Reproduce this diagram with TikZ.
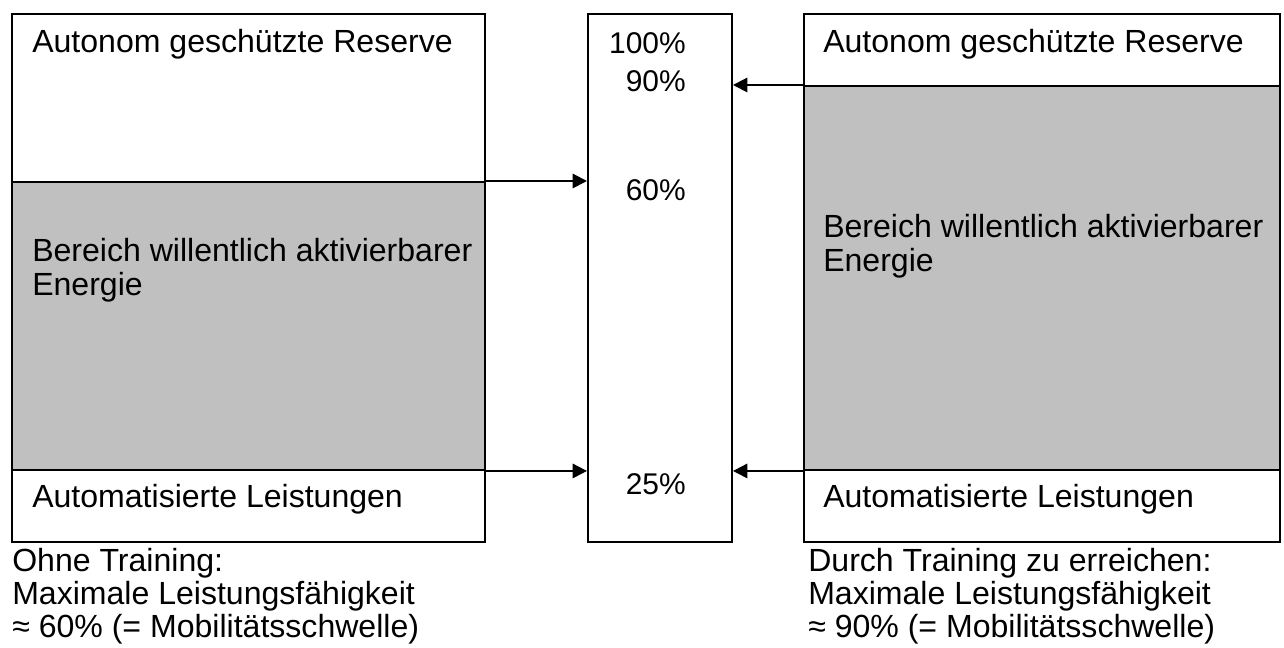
\documentclass[tikz,border=0pt]{standalone}
\usepackage{fontspec}
\setmainfont{Liberation Sans}
\usetikzlibrary{arrows.meta}

\begin{document}
\begin{tikzpicture}[>={Triangle[length=0.36cm,width=0.36cm]}, font=\fontsize{22.8}{24.2}\selectfont,
    box/.style={draw, line width=1.4pt, inner sep=0pt, anchor=north west},
    txt/.style={inner sep=0pt, anchor=base west},
    mtxt/.style={inner sep=0pt, anchor=north west, align=left},
    proz/.style={inner sep=0pt, anchor=base east, font=\fontsize{21.3}{24}\selectfont},
    pfeil/.style={->, line width=1.4pt}]
    \definecolor{silbergrau}{RGB}{192,192,192}
    \useasboundingbox[fill=white] (0,0) rectangle (32.1,16.2);

    % Kästen
    \node[box, minimum width=11.825cm, minimum height=13.2cm] (links) at (0.275,15.875) {};
    \node[box, minimum width=3.6cm, minimum height=13.2cm] (mitte) at (14.675,15.875) {};
    \node[box, minimum width=11.9cm, minimum height=13.2cm] (rechts) at (20.075,15.875) {};

    % Bereich willentlich aktivierbarer Energie
    \node[box, fill=silbergrau, minimum width=11.825cm, minimum height=7.2cm] (linksE) at (0.275,11.675) {};
    \node[box, fill=silbergrau, minimum width=11.9cm, minimum height=9.6cm] (rechtsE) at (20.075,14.075) {};

    % Pfeile zur Skala
    \draw[pfeil] (linksE.north east) -- (linksE.north east -| mitte.west);
    \draw[pfeil] (linksE.south east) -- (linksE.south east -| mitte.west);
    \draw[pfeil] (rechtsE.north west) -- (rechtsE.north west -| mitte.east);
    \draw[pfeil] (rechtsE.south west) -- (rechtsE.south west -| mitte.east);

    % Beschriftungen
    \node[txt] (resL) at (0.8,14.875) {Autonom geschützte Reserve};
    \node[txt] (resR) at (20.575,14.875) {Autonom geschützte Reserve};
    \node[mtxt] (engL) at (0.8,10.25) {Bereich willentlich aktivierbarer\\Energie};
    \node[mtxt] (engR) at (20.575,10.85) {Bereich willentlich aktivierbarer\\Energie};
    \node[txt] (autL) at (0.8,3.5) {Automatisierte Leistungen};
    \node[txt] (autR) at (20.575,3.5) {Automatisierte Leistungen};

    % Skala
    \node[proz] (p100) at (17.15,14.85) {100\%};
    \node[proz] (p90) at (17.15,13.9) {90\%};
    \node[proz] (p60) at (17.15,11.175) {60\%};
    \node[proz] (p25) at (17.15,3.825) {25\%};

    % Unterschriften
    \node[mtxt, font=\fontsize{22.8}{23.4}\selectfont] (ohne) at (0.3,2.5)
        {Ohne Training:\\Maximale Leistungsfähigkeit\\≈ 60\% (= Mobilitätsschwelle)};
    \node[mtxt, font=\fontsize{22.8}{23.4}\selectfont] (durch) at (20.2,2.5)
        {Durch Training zu erreichen:\\Maximale Leistungsfähigkeit\\≈ 90\% (= Mobilitätsschwelle)};
\end{tikzpicture}
\end{document}
